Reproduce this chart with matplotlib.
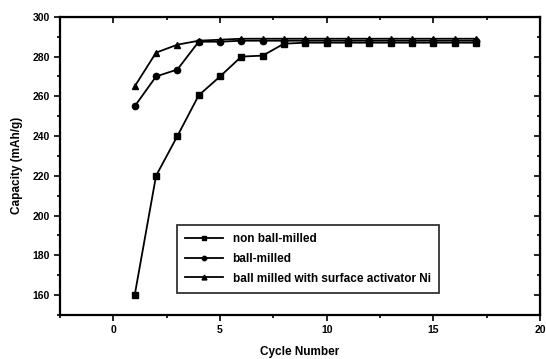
import matplotlib
matplotlib.use("Agg")
import matplotlib.pyplot as plt
from matplotlib.ticker import MultipleLocator

plt.rcParams['font.family'] = ['Liberation Sans', 'DejaVu Sans']
plt.rcParams['font.weight'] = 'bold'

cycles = list(range(1, 18))
non_ball_milled = [160, 220, 240, 260.5, 270, 280, 280.5, 286.5, 287, 287, 287, 287, 287, 287, 287, 287, 287]
ball_milled = [255, 270, 273.5, 287.5, 287.5, 288, 288, 288, 288, 288, 288, 288, 288, 288, 288, 288, 288]
ball_milled_ni = [265, 282, 286, 288, 288.5, 289, 289, 289, 289, 289, 289, 289, 289, 289, 289, 289, 289]
labels = ["non ball-milled", "ball-milled", "ball milled with surface activator Ni"]

fig = plt.figure(figsize=(5.46, 3.59), dpi=100)
ax = fig.add_axes([0.11, 0.123, 0.879, 0.83])

ax.plot(cycles, non_ball_milled, '-s', color='black', lw=1.3, ms=4.5, label=labels[0])
ax.plot(cycles, ball_milled, '-o', color='black', lw=1.3, ms=4.5, label=labels[1])
ax.plot(cycles, ball_milled_ni, '-^', color='black', lw=1.3, ms=5, label=labels[2])

ax.set_xlim(-2.5, 20)
ax.set_ylim(150, 300)
ax.xaxis.set_major_locator(MultipleLocator(5))
ax.xaxis.set_minor_locator(MultipleLocator(2.5))
ax.yaxis.set_major_locator(MultipleLocator(20))
ax.yaxis.set_minor_locator(MultipleLocator(10))

for s in ax.spines.values():
    s.set_linewidth(1.6)

ax.tick_params(which='both', direction='out', top=False, right=False, width=1.2)
ax.tick_params(which='major', length=4, labelsize=7.5)
ax.tick_params(which='minor', length=2)
for lbl in ax.get_xticklabels() + ax.get_yticklabels():
    lbl.set_fontweight('bold')

# inward ticks on top and right
axt = ax.secondary_xaxis('top')
axt.xaxis.set_major_locator(MultipleLocator(5))
axt.xaxis.set_minor_locator(MultipleLocator(2.5))
axt.tick_params(which='both', direction='in', labeltop=False, width=1.2)
axt.tick_params(which='major', length=4)
axt.tick_params(which='minor', length=2)
axr = ax.secondary_yaxis('right')
axr.yaxis.set_major_locator(MultipleLocator(20))
axr.yaxis.set_minor_locator(MultipleLocator(10))
axr.tick_params(which='both', direction='in', labelright=False, width=1.2)
axr.tick_params(which='major', length=4)
axr.tick_params(which='minor', length=2)

ax.set_xlabel("Cycle Number", fontsize=8.5, fontweight='bold', labelpad=8)
ax.set_ylabel("Capacity (mAh/g)", fontsize=8.5, fontweight='bold', labelpad=7)

leg = ax.legend(loc='lower left', bbox_to_anchor=(0.244, 0.074), frameon=True,
                fancybox=False, edgecolor='black', prop={'weight': 'bold', 'size': 8.5},
                handlelength=3.2, borderpad=0.7, labelspacing=0.65, markerscale=0.7,
                borderaxespad=0)
leg.get_frame().set_linewidth(1.3)

fig.savefig("out.png", dpi=100)
